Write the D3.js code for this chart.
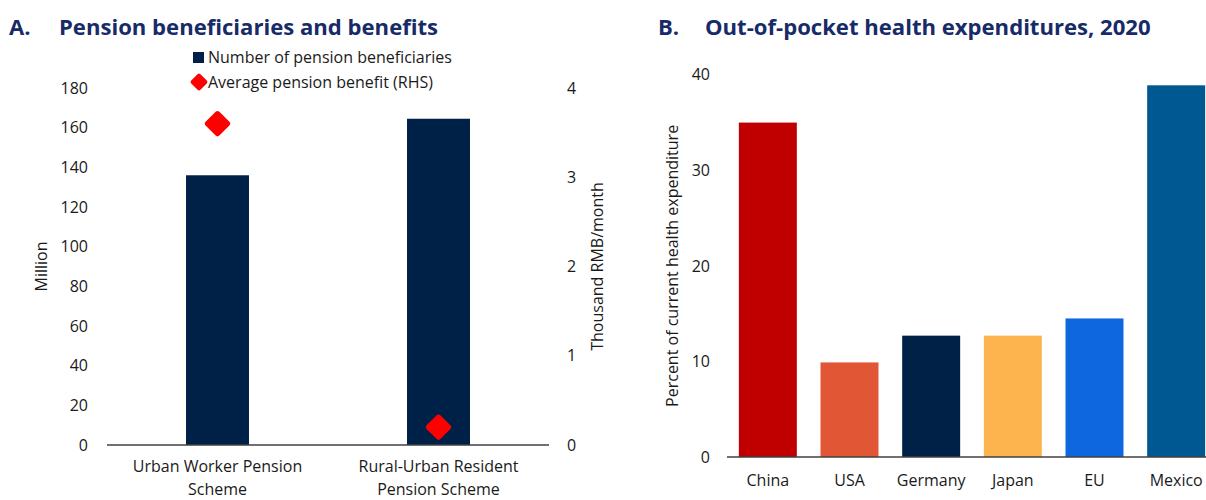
<!DOCTYPE html>
<html>
<head>
<meta charset="utf-8">
<script src="https://cdn.jsdelivr.net/npm/d3@7"></script>
<style>
  html, body { margin: 0; padding: 0; background: #fff; }
  svg { display: block; }
  text { font-family: "Open Sans", sans-serif; fill: #1a1a1a; }
</style>
</head>
<body>
<svg id="chart" width="1206" height="500"></svg>
<script>
// ---- Panel A data ----
const pensionSchemes = ["Urban Worker Pension Scheme", "Rural-Urban Resident Pension Scheme"];
const pensionLabelLines = [["Urban Worker Pension", "Scheme"], ["Rural-Urban Resident", "Pension Scheme"]];
const beneficiaries = [136, 164.5];        // Million
const avgBenefit = [3.6, 0.2];             // Thousand RMB/month
const leftTicks = [0, 20, 40, 60, 80, 100, 120, 140, 160, 180];
const rightTicks = [0, 1, 2, 3, 4];

// ---- Panel B data ----
const countries = ["China", "USA", "Germany", "Japan", "EU", "Mexico"];
const oopShare = [35.0, 9.9, 12.7, 12.7, 14.5, 38.9];
const countryColors = ["#C00000", "#E15635", "#002147", "#FDB44E", "#0F67E0", "#005893"];
const bTicks = [0, 10, 20, 30, 40];

const FONT = "'Open Sans', sans-serif";
const FS = 16;
const TFS = 22.1;
const titleColor = "#172B69";
const navy = "#002147";
const svg = d3.select("#chart");

function styleTicks(sel) {
  sel.selectAll("text").attr("font-size", FS).style("font-family", FONT).style("fill", "#1a1a1a");
}

// ================= Panel A =================
const A = svg.append("g");
const xA = d3.scaleBand().domain(pensionSchemes).range([107, 549]).paddingInner(0.715).paddingOuter(0.3575);
const yL = d3.scaleLinear().domain([0, 180]).range([445, 88]);
const yR = d3.scaleLinear().domain([0, 4]).range([445, 88]);

A.append("text").attr("x", 9).attr("y", 35).attr("font-size", TFS).attr("font-weight", 700)
  .style("fill", titleColor).text("A.");
A.append("text").attr("x", 59).attr("y", 35).attr("font-size", TFS).attr("font-weight", 700)
  .style("fill", titleColor).text("Pension beneficiaries and benefits");

// left axis
const axL = d3.axisLeft(yL).tickValues(leftTicks).tickSize(0).tickPadding(0).tickFormat(d3.format("d"));
A.append("g").attr("transform", "translate(88,0)").call(axL)
  .call(g => g.select(".domain").remove()).call(styleTicks);
// right axis
const axR = d3.axisRight(yR).tickValues(rightTicks).tickSize(0).tickPadding(0).tickFormat(d3.format("d"));
A.append("g").attr("transform", "translate(567,0)").call(axR)
  .call(g => g.select(".domain").remove()).call(styleTicks);

A.append("text").attr("transform", `translate(47,${(yL(0) + yL(180)) / 2}) rotate(-90)`)
  .attr("text-anchor", "middle").attr("font-size", FS).text("Million");
A.append("text").attr("transform", `translate(603,${(yR(0) + yR(4)) / 2}) rotate(-90)`)
  .attr("text-anchor", "middle").attr("font-size", FS).text("Thousand RMB/month");

// bars
A.selectAll("rect.bar").data(pensionSchemes).join("rect").attr("class", "bar")
  .attr("x", d => xA(d)).attr("width", xA.bandwidth())
  .attr("y", (d, i) => yL(beneficiaries[i]))
  .attr("height", (d, i) => yL(0) - yL(beneficiaries[i]))
  .attr("fill", navy);

// baseline
A.append("line").attr("x1", 107).attr("x2", 549).attr("y1", yL(0)).attr("y2", yL(0))
  .attr("stroke", "#404040").attr("stroke-width", 1.5);

// diamonds
const dSide = 19.5;
A.selectAll("rect.dia").data(pensionSchemes).join("rect").attr("class", "dia")
  .attr("x", -dSide / 2).attr("y", -dSide / 2).attr("width", dSide).attr("height", dSide)
  .attr("rx", 3).attr("fill", "#FF0000")
  .attr("transform", (d, i) => `translate(${xA(d) + xA.bandwidth() / 2},${yR(avgBenefit[i])}) rotate(45)`);

// category labels
pensionSchemes.forEach((d, i) => {
  const t = A.append("text").attr("text-anchor", "middle").attr("font-size", FS)
    .attr("x", xA(d) + xA.bandwidth() / 2).attr("y", 472);
  pensionLabelLines[i].forEach((ln, j) => {
    t.append("tspan").attr("x", xA(d) + xA.bandwidth() / 2).attr("dy", j === 0 ? 0 : 22.5).text(ln);
  });
});

// legend
A.append("rect").attr("x", 193).attr("y", 52).attr("width", 11).attr("height", 11).attr("fill", navy);
A.append("text").attr("x", 208).attr("y", 63).attr("font-size", FS).text("Number of pension beneficiaries");
const lSide = 13;
A.append("rect").attr("x", -lSide / 2).attr("y", -lSide / 2).attr("width", lSide).attr("height", lSide)
  .attr("rx", 2).attr("fill", "#FF0000").attr("transform", "translate(199,82) rotate(45)");
A.append("text").attr("x", 208).attr("y", 87.5).attr("font-size", FS).text("Average pension benefit (RHS)");

// ================= Panel B =================
const B = svg.append("g");
const xB = d3.scaleBand().domain(countries).range([727, 1217]).paddingInner(0.29).paddingOuter(0.145);
const yB = d3.scaleLinear().domain([0, 40]).range([457, 74.8]);

B.append("text").attr("x", 658).attr("y", 35).attr("font-size", TFS).attr("font-weight", 700)
  .style("fill", titleColor).text("B.");
B.append("text").attr("x", 705).attr("y", 35).attr("font-size", TFS).attr("font-weight", 700)
  .style("fill", titleColor).text("Out-of-pocket health expenditures, 2020");

const axB = d3.axisLeft(yB).tickValues(bTicks).tickSize(0).tickPadding(0).tickFormat(d3.format("d"));
B.append("g").attr("transform", "translate(710,0)").call(axB)
  .call(g => g.select(".domain").remove()).call(styleTicks);

B.append("text").attr("transform", `translate(678,${(yB(0) + yB(40)) / 2}) rotate(-90)`)
  .attr("text-anchor", "middle").attr("font-size", FS).text("Percent of current health expenditure");

B.selectAll("rect.bar").data(countries).join("rect").attr("class", "bar")
  .attr("x", d => xB(d)).attr("width", xB.bandwidth())
  .attr("y", (d, i) => yB(oopShare[i]))
  .attr("height", (d, i) => yB(0) - yB(oopShare[i]))
  .attr("fill", (d, i) => countryColors[i]);

B.append("line").attr("x1", 727).attr("x2", 1206).attr("y1", yB(0)).attr("y2", yB(0))
  .attr("stroke", "#404040").attr("stroke-width", 1.5);

const axBx = d3.axisBottom(xB).tickSize(0).tickPadding(0);
B.append("g").attr("transform", `translate(0,${yB(0) + 29})`).call(axBx)
  .call(g => g.select(".domain").remove())
  .call(g => g.selectAll("text").attr("dy", 0)).call(styleTicks);
</script>
</body>
</html>
